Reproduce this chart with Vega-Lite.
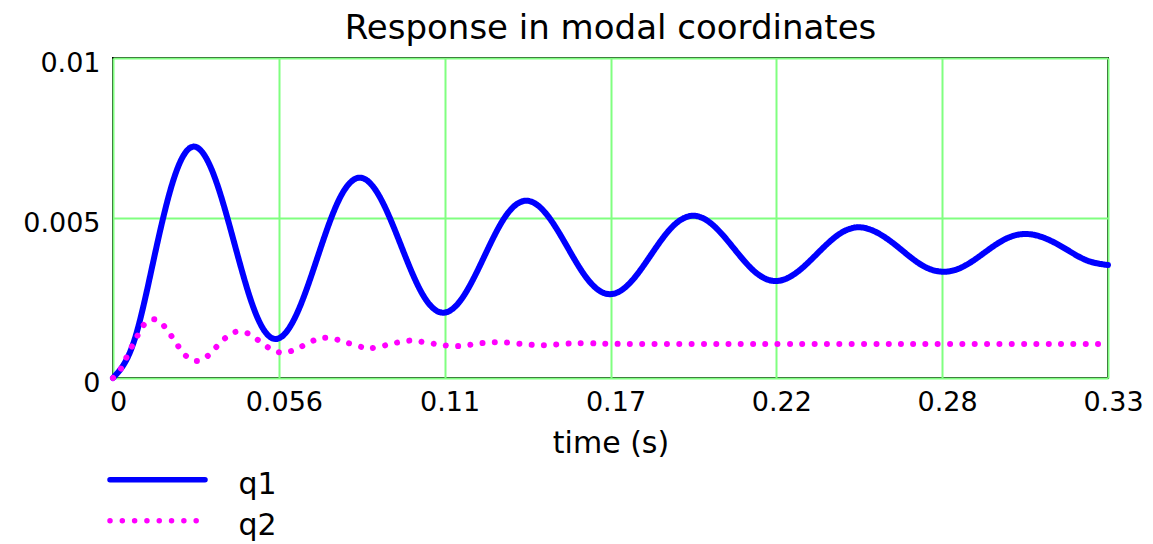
{
  "$schema": "https://vega.github.io/schema/vega-lite/v6.json",
  "width": 995,
  "height": 320,
  "autosize": {"type": "none"},
  "padding": {"left": 113, "top": 58, "right": 45, "bottom": 166},
  "background": "white",
  "title": {"text": "Response in modal coordinates", "font": "DejaVu Sans", "fontSize": 34, "fontWeight": "normal", "color": "black", "baseline": "alphabetic", "offset": 18, "dy": 42, "anchor": "middle"},
  "data": {"values": [
    {"t": 0, "v": 0, "s": "q1"},
    {"t": 0.00673, "v": 0.00106, "s": "q1"},
    {"t": 0.01345, "v": 0.00362, "s": "q1"},
    {"t": 0.02018, "v": 0.00617, "s": "q1"},
    {"t": 0.0269, "v": 0.00723, "s": "q1"},
    {"t": 0.03375, "v": 0.00635, "s": "q1"},
    {"t": 0.0406, "v": 0.00423, "s": "q1"},
    {"t": 0.04745, "v": 0.0021, "s": "q1"},
    {"t": 0.0543, "v": 0.00122, "s": "q1"},
    {"t": 0.06135, "v": 0.00196, "s": "q1"},
    {"t": 0.0684, "v": 0.00374, "s": "q1"},
    {"t": 0.07545, "v": 0.00552, "s": "q1"},
    {"t": 0.0825, "v": 0.00626, "s": "q1"},
    {"t": 0.08948, "v": 0.00564, "s": "q1"},
    {"t": 0.09645, "v": 0.00415, "s": "q1"},
    {"t": 0.10343, "v": 0.00266, "s": "q1"},
    {"t": 0.1104, "v": 0.00204, "s": "q1"},
    {"t": 0.11738, "v": 0.00255, "s": "q1"},
    {"t": 0.12435, "v": 0.00379, "s": "q1"},
    {"t": 0.13133, "v": 0.00503, "s": "q1"},
    {"t": 0.1383, "v": 0.00554, "s": "q1"},
    {"t": 0.1453, "v": 0.00511, "s": "q1"},
    {"t": 0.1523, "v": 0.00408, "s": "q1"},
    {"t": 0.1593, "v": 0.00305, "s": "q1"},
    {"t": 0.1663, "v": 0.00262, "s": "q1"},
    {"t": 0.17328, "v": 0.00298, "s": "q1"},
    {"t": 0.18025, "v": 0.00385, "s": "q1"},
    {"t": 0.18723, "v": 0.00471, "s": "q1"},
    {"t": 0.1942, "v": 0.00507, "s": "q1"},
    {"t": 0.2011, "v": 0.00477, "s": "q1"},
    {"t": 0.208, "v": 0.00405, "s": "q1"},
    {"t": 0.2149, "v": 0.00333, "s": "q1"},
    {"t": 0.2218, "v": 0.00303, "s": "q1"},
    {"t": 0.22878, "v": 0.00328, "s": "q1"},
    {"t": 0.23575, "v": 0.00387, "s": "q1"},
    {"t": 0.24273, "v": 0.00446, "s": "q1"},
    {"t": 0.2497, "v": 0.00471, "s": "q1"},
    {"t": 0.25683, "v": 0.0045, "s": "q1"},
    {"t": 0.26395, "v": 0.00402, "s": "q1"},
    {"t": 0.27108, "v": 0.00352, "s": "q1"},
    {"t": 0.2782, "v": 0.00332, "s": "q1"},
    {"t": 0.28503, "v": 0.00349, "s": "q1"},
    {"t": 0.29185, "v": 0.00391, "s": "q1"},
    {"t": 0.29868, "v": 0.00433, "s": "q1"},
    {"t": 0.3055, "v": 0.0045, "s": "q1"},
    {"t": 0.31245, "v": 0.00436, "s": "q1"},
    {"t": 0.3194, "v": 0.00402, "s": "q1"},
    {"t": 0.32635, "v": 0.00367, "s": "q1"},
    {"t": 0.33333, "v": 0.00353, "s": "q1"},
    {"t": 0, "v": 0, "s": "q2"},
    {"t": 0.0027, "v": 0.0003, "s": "q2"},
    {"t": 0.0046, "v": 0.00066, "s": "q2"},
    {"t": 0.0064, "v": 0.001, "s": "q2"},
    {"t": 0.0083, "v": 0.00134, "s": "q2"},
    {"t": 0.0105, "v": 0.00168, "s": "q2"},
    {"t": 0.0141, "v": 0.00183, "s": "q2"},
    {"t": 0.0174, "v": 0.00159, "s": "q2"},
    {"t": 0.0198, "v": 0.00128, "s": "q2"},
    {"t": 0.0221, "v": 0.00096, "s": "q2"},
    {"t": 0.0247, "v": 0.00067, "s": "q2"},
    {"t": 0.0284, "v": 0.00053, "s": "q2"},
    {"t": 0.0321, "v": 0.00072, "s": "q2"},
    {"t": 0.0349, "v": 0.001, "s": "q2"},
    {"t": 0.0379, "v": 0.00127, "s": "q2"},
    {"t": 0.0414, "v": 0.00145, "s": "q2"},
    {"t": 0.0455, "v": 0.00138, "s": "q2"},
    {"t": 0.0489, "v": 0.00116, "s": "q2"},
    {"t": 0.0524, "v": 0.00093, "s": "q2"},
    {"t": 0.0559, "v": 0.0008, "s": "q2"},
    {"t": 0.0599, "v": 0.00085, "s": "q2"},
    {"t": 0.0637, "v": 0.00101, "s": "q2"},
    {"t": 0.0677, "v": 0.00119, "s": "q2"},
    {"t": 0.0716, "v": 0.00126, "s": "q2"},
    {"t": 0.0758, "v": 0.00118, "s": "q2"},
    {"t": 0.0796, "v": 0.00107, "s": "q2"},
    {"t": 0.0836, "v": 0.00096, "s": "q2"},
    {"t": 0.0857, "v": 0.00093, "s": "q2"},
    {"t": 0.0878, "v": 0.00095, "s": "q2"},
    {"t": 0.0917, "v": 0.00103, "s": "q2"},
    {"t": 0.0958, "v": 0.00112, "s": "q2"},
    {"t": 0.1001, "v": 0.00117, "s": "q2"},
    {"t": 0.1042, "v": 0.00112, "s": "q2"},
    {"t": 0.1084, "v": 0.00106, "s": "q2"},
    {"t": 0.1123, "v": 0.00101, "s": "q2"},
    {"t": 0.1165, "v": 0.001, "s": "q2"},
    {"t": 0.1205, "v": 0.00105, "s": "q2"},
    {"t": 0.1246, "v": 0.0011, "s": "q2"},
    {"t": 0.1287, "v": 0.00112, "s": "q2"},
    {"t": 0.133, "v": 0.0011, "s": "q2"},
    {"t": 0.1373, "v": 0.00106, "s": "q2"},
    {"t": 0.1414, "v": 0.00103, "s": "q2"},
    {"t": 0.1455, "v": 0.00103, "s": "q2"},
    {"t": 0.1498, "v": 0.00106, "s": "q2"},
    {"t": 0.1539, "v": 0.00108, "s": "q2"},
    {"t": 0.1579, "v": 0.00109, "s": "q2"},
    {"t": 0.162, "v": 0.00108, "s": "q2"},
    {"t": 0.1663, "v": 0.00107, "s": "q2"},
    {"t": 0.18, "v": 0.00106, "s": "q2"},
    {"t": 0.2, "v": 0.00106, "s": "q2"},
    {"t": 0.22, "v": 0.00106, "s": "q2"},
    {"t": 0.25, "v": 0.00106, "s": "q2"},
    {"t": 0.28, "v": 0.00106, "s": "q2"},
    {"t": 0.31, "v": 0.00106, "s": "q2"},
    {"t": 0.33333, "v": 0.00106, "s": "q2"}
  ]},
  "mark": {"type": "line", "interpolate": "natural", "strokeWidth": 6, "strokeCap": "round", "strokeJoin": "round"},
  "encoding": {
    "x": {"field": "t", "type": "quantitative", "title": "time (s)",
      "scale": {"domain": [0, 0.333333], "nice": false, "zero": false},
      "axis": {"values": [0, 0.0555556, 0.1111111, 0.1666667, 0.2222222, 0.2777778, 0.333333], "format": ".2~g",
        "labelOffset": 5, "labelPadding": 11, "titleY": 74, "titleBaseline": "alphabetic"}},
    "y": {"field": "v", "type": "quantitative", "title": null,
      "scale": {"domain": [0, 0.01], "nice": false},
      "axis": {"values": [0, 0.005, 0.01], "format": "~g", "labelPadding": 13, "labelOffset": 5, "labelBaseline": "middle", "labelAlign": "right"}},
    "color": {"field": "s", "type": "nominal", "scale": {"domain": ["q1", "q2"], "range": ["#0000FF", "#FF00FF"]},
      "legend": {"title": null, "encoding": {"symbols": {"strokeCap": {"value": "round"}}}}},
    "strokeDash": {"field": "s", "type": "nominal", "scale": {"domain": ["q1", "q2"], "range": [[1, 0], [0.01, 12.3]]},
      "legend": {"title": null, "encoding": {"symbols": {"strokeCap": {"value": "round"}}}}}
  },
  "config": {
    "view": {"stroke": "black", "strokeWidth": 2},
    "axis": {"domain": false, "ticks": false, "tickSize": 0, "grid": true, "gridColor": "#80FF80", "gridWidth": 2, "gridOpacity": 1,
      "labelFont": "DejaVu Sans", "labelFontSize": 27, "labelColor": "black", "labelFlush": false, "labelOverlap": false,
      "titleFont": "DejaVu Sans", "titleFontSize": 30, "titleFontWeight": "normal", "titleColor": "black"},
    "legend": {"orient": "none", "legendX": 0, "legendY": 412, "padding": 0,
      "symbolType": "M-4,-0.45L4,-0.45", "symbolSize": 564, "symbolOffset": 29.5, "symbolStrokeWidth": 5.5,
      "labelOffset": 66, "labelFont": "DejaVu Sans", "labelFontSize": 30, "labelColor": "black", "labelBaseline": "middle",
      "rowPadding": 9}
  }
}
